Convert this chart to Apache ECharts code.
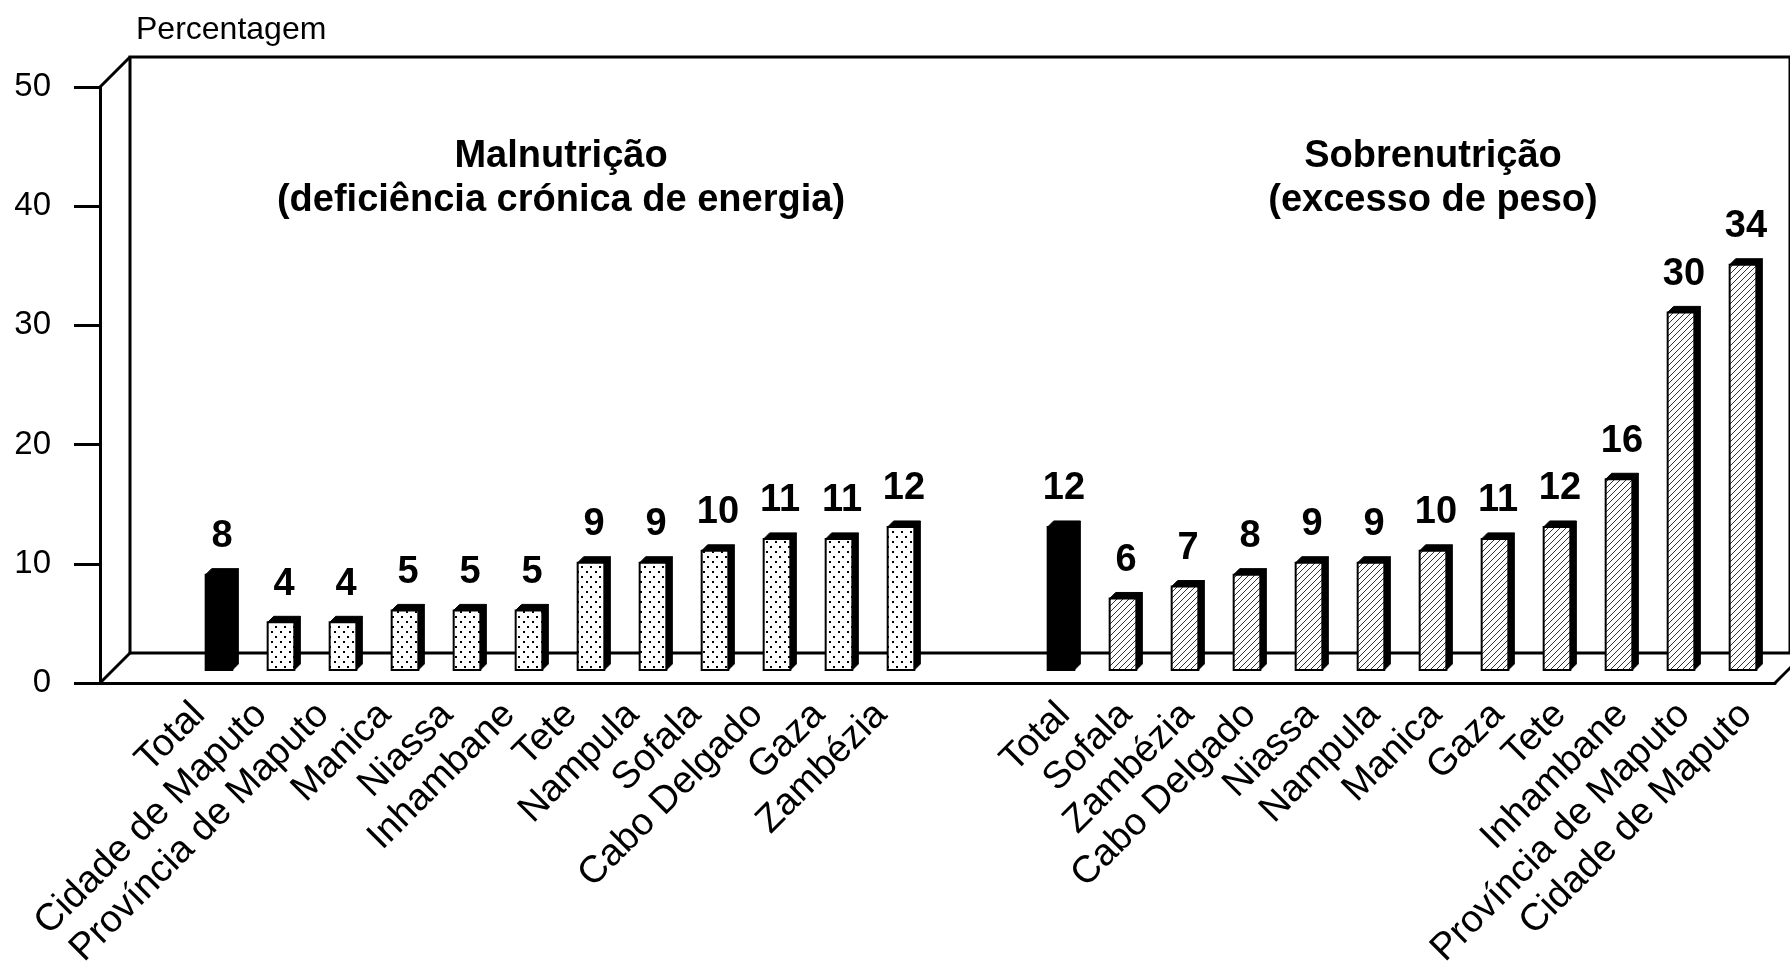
<!DOCTYPE html>
<html>
<head>
<meta charset="utf-8">
<title>Malnutrição / Sobrenutrição</title>
<script src="https://cdn.jsdelivr.net/npm/echarts@6/dist/echarts.min.js"></script>
<style>
  html, body { margin: 0; padding: 0; background: #fff; }
  #app { width: 1790px; height: 971px; }
</style>
</head>
<body>
<div id="app"></div>
<script>
// data
const leftCats = ['Total', 'Cidade de Maputo', 'Província de Maputo', 'Manica', 'Niassa', 'Inhambane', 'Tete', 'Nampula', 'Sofala', 'Cabo Delgado', 'Gaza', 'Zambézia'];
const leftVals = [8, 4, 4, 5, 5, 5, 9, 9, 10, 11, 11, 12];
const rightCats = ['Total', 'Sofala', 'Zambézia', 'Cabo Delgado', 'Niassa', 'Nampula', 'Manica', 'Gaza', 'Tete', 'Inhambane', 'Província de Maputo', 'Cidade de Maputo'];
const rightVals = [12, 6, 7, 8, 9, 9, 10, 11, 12, 16, 30, 34];
const leftTitle = 'Malnutrição\n(deficiência crónica de energia)';
const rightTitle = 'Sobrenutrição\n(excesso de peso)';
const yName = 'Percentagem';
const yMin = 0, yMax = 50, yStep = 10;

const FONT = "'Liberation Sans', Arial, sans-serif";
const W = 1790, H = 971;
// front plane of the box, and depth of the back wall
const front = { left: 100, top: 87, bottom: 683, right: 1775 };
const depth = 30;
const barBase = 670;   // bars stand mid-depth
const barScaleTop = barBase - (front.bottom - front.top);
// horizontal span of each group of bars [left, right]
const leftSpan = [188, 932];
const rightSpan = [1030, 1774];
const leftLabelShift = -20, rightLabelShift = 3;

const myChart = echarts.init(document.getElementById('app'));

// fill patterns
const makePattern = (kind) => {
  const c = document.createElement('canvas');
  const ctx = c.getContext('2d');
  if (kind === 'dots') {
    c.width = 9; c.height = 10;
    ctx.fillStyle = '#fff';
    ctx.fillRect(0, 0, 9, 10);
    ctx.fillStyle = '#000';
    ctx.fillRect(1, 1, 2, 2);
    ctx.fillRect(5, 6, 2, 2);
  } else {
    c.width = 6; c.height = 6;
    ctx.fillStyle = '#fff';
    ctx.fillRect(0, 0, 6, 6);
    ctx.strokeStyle = '#333';
    ctx.lineWidth = 1;
    ctx.beginPath();
    ctx.moveTo(-1, 7); ctx.lineTo(7, -1);
    ctx.moveTo(-1, 1); ctx.lineTo(1, -1);
    ctx.moveTo(5, 7); ctx.lineTo(7, 5);
    ctx.stroke();
  }
  return { image: c, repeat: 'repeat' };
};
const dots = makePattern('dots');
const hatch = makePattern('hatch');

const bar3d = (cats, pattern) => (params, api) => {
  const idx = api.value(0);
  const val = api.value(1);
  const top = api.coord([idx, val]);
  const base = api.coord([idx, 0]);
  const w = api.size([1, 0])[0] * 0.43;
  const d = 6;
  const x0 = top[0] - w / 2, x1 = top[0] + w / 2;
  const y0 = top[1], y1 = base[1];
  const solid = cats[idx] === 'Total';
  return {
    type: 'group',
    children: [
      {
        type: 'polygon',
        shape: { points: [[x1, y0], [x1 + d, y0 - d], [x1 + d, y1 - d], [x1, y1]] },
        style: { fill: '#000', stroke: '#000', lineWidth: 1 }
      },
      {
        type: 'polygon',
        shape: { points: [[x0, y0], [x0 + d, y0 - d], [x1 + d, y0 - d], [x1, y0]] },
        style: { fill: '#000', stroke: '#000', lineWidth: 1 }
      },
      {
        type: 'rect',
        shape: { x: x0, y: y0, width: w, height: y1 - y0 },
        style: { fill: solid ? '#000' : pattern, stroke: '#000', lineWidth: 2 }
      },
      {
        type: 'text',
        style: {
          x: top[0] + d / 2, y: y0 - d - 13,
          text: String(val),
          fill: '#000',
          font: `bold 38px ${FONT}`,
          align: 'center', verticalAlign: 'bottom'
        }
      }
    ]
  };
};

const catAxis = (gridIndex, data, showLabel) => ({
  type: 'category',
  gridIndex,
  data,
  boundaryGap: true,
  axisLine: { show: false },
  axisTick: { show: false },
  axisLabel: {
    show: showLabel,
    rotate: 45,
    margin: 55,
    interval: 0,
    color: '#000',
    fontFamily: FONT,
    fontSize: 38
  }
});

const hiddenY = (gridIndex) => ({
  type: 'value', gridIndex, min: yMin, max: yMax,
  axisLine: { show: false }, axisTick: { show: false },
  axisLabel: { show: false }, splitLine: { show: false }
});

const spanGrid = (span, shift) => ({
  left: span[0] + shift, right: W - span[1] - shift, top: barScaleTop, bottom: H - barBase
});

const titleStyle = { fontSize: 38, fontWeight: 'bold', color: '#000', lineHeight: 44, fontFamily: FONT };

const option = {
  backgroundColor: '#fff',
  animation: false,
  textStyle: { fontFamily: FONT },
  title: [
    {
      text: yName, left: 131, top: 9,
      textStyle: { fontSize: 32, fontWeight: 'normal', color: '#000', fontFamily: FONT }
    },
    { text: leftTitle, left: 556, top: 130, textAlign: 'center', textStyle: titleStyle },
    { text: rightTitle, left: 1428, top: 130, textAlign: 'center', textStyle: titleStyle }
  ],
  grid: [
    // front plane: y axis + front floor edge
    { left: front.left, top: front.top, right: W - front.right, bottom: H - front.bottom },
    // back wall
    {
      left: front.left + depth, top: front.top - depth,
      right: W - front.right - depth, bottom: H - front.bottom + depth,
      show: true, borderColor: '#000', borderWidth: 3, backgroundColor: 'transparent'
    },
    // bar planes
    spanGrid(leftSpan, 0),
    spanGrid(rightSpan, 0),
    // category label planes
    spanGrid(leftSpan, leftLabelShift),
    spanGrid(rightSpan, rightLabelShift)
  ],
  xAxis: [
    {
      type: 'value', gridIndex: 0, min: 0, max: 1,
      axisLine: { show: true, onZero: false, lineStyle: { color: '#000', width: 3 } },
      axisTick: { show: false }, axisLabel: { show: false }, splitLine: { show: false }
    },
    { type: 'value', gridIndex: 1, min: 0, max: 1, show: false },
    catAxis(2, leftCats, false),
    catAxis(3, rightCats, false),
    catAxis(4, leftCats, true),
    catAxis(5, rightCats, true)
  ],
  yAxis: [
    {
      type: 'value', gridIndex: 0, min: yMin, max: yMax, interval: yStep,
      axisLine: { show: true, lineStyle: { color: '#000', width: 3 } },
      axisTick: { show: true, inside: false, length: 26, lineStyle: { color: '#000', width: 3 } },
      axisLabel: { color: '#000', fontSize: 33, margin: 49, fontFamily: FONT },
      splitLine: { show: false }
    },
    { type: 'value', gridIndex: 1, min: yMin, max: yMax, show: false },
    hiddenY(2),
    hiddenY(3),
    hiddenY(4),
    hiddenY(5)
  ],
  graphic: [
    { type: 'line', shape: { x1: front.left, y1: front.top, x2: front.left + depth, y2: front.top - depth }, style: { stroke: '#000', lineWidth: 3 } },
    { type: 'line', shape: { x1: front.left, y1: front.bottom, x2: front.left + depth, y2: front.bottom - depth }, style: { stroke: '#000', lineWidth: 3 } },
    { type: 'line', shape: { x1: front.right, y1: front.bottom, x2: front.right + depth, y2: front.bottom - depth }, style: { stroke: '#000', lineWidth: 3 } }
  ],
  series: [
    {
      type: 'custom',
      xAxisIndex: 2, yAxisIndex: 2,
      renderItem: bar3d(leftCats, dots),
      data: leftVals.map((v, i) => [i, v]),
      z: 5
    },
    {
      type: 'custom',
      xAxisIndex: 3, yAxisIndex: 3,
      renderItem: bar3d(rightCats, hatch),
      data: rightVals.map((v, i) => [i, v]),
      z: 5
    }
  ]
};

myChart.setOption(option);
</script>
</body>
</html>
